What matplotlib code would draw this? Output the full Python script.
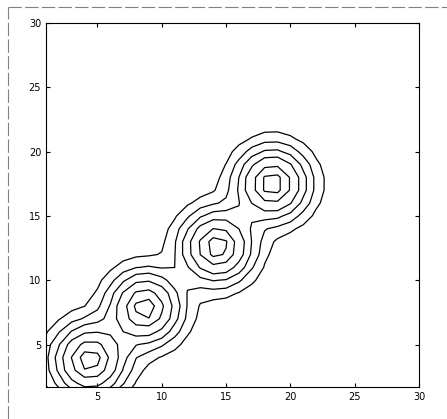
import numpy as np
import matplotlib.pyplot as plt

# peaks of the surface
peak_x = [4.4, 8.7, 14.3, 18.6]
peak_y = [3.8, 7.85, 12.6, 17.5]
peak_amp = [1.0, 1.0, 1.0, 1.0]
peak_sig = [1.7, 1.7, 1.7, 1.7]
levels = [0.07, 0.17, 0.3, 0.47, 0.7, 0.88]
ticks = [5, 10, 15, 20, 25, 30]

gx = np.arange(1, 31)
gy = np.arange(1, 31)
X, Y = np.meshgrid(gx, gy)
Z = np.zeros_like(X, dtype=float)
for cx, cy, a, s in zip(peak_x, peak_y, peak_amp, peak_sig):
    Z += a * np.exp(-((X - cx) ** 2 + (Y - cy) ** 2) / (2 * s ** 2))

fig = plt.figure(figsize=(4.47, 4.19), dpi=100)
ax = fig.add_axes([46 / 447, 1 - 387 / 419, (419 - 46) / 447, (387 - 23) / 419])
ax.contour(X, Y, Z, levels=levels, colors='k', linewidths=0.9)
ax.set_xlim(1, 30)
ax.set_ylim(1.7, 30)
ax.set_xticks(ticks)
ax.set_yticks(ticks)
ax.tick_params(direction='in', length=3, top=True, right=True, labelsize=7)

# scan border
fig.add_artist(plt.Line2D([8 / 447, 8 / 447], [0, 1 - 7 / 419], color='0.5', lw=0.8, ls=(0, (12, 3))))
fig.add_artist(plt.Line2D([8 / 447, 1], [1 - 7 / 419, 1 - 7 / 419], color='0.5', lw=0.8, ls=(0, (12, 3))))

fig.savefig('out.png', dpi=100)
